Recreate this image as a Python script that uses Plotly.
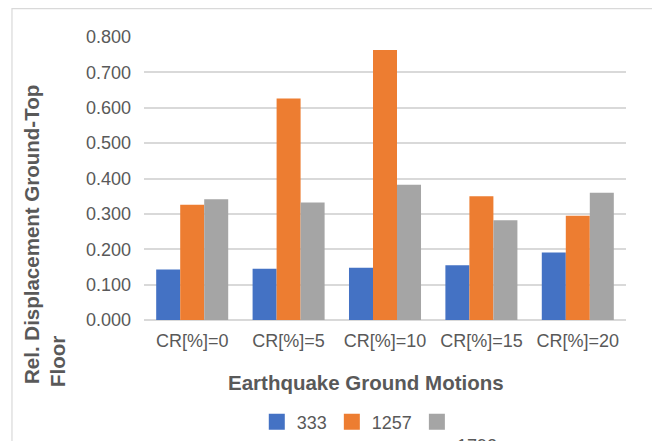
import plotly.graph_objects as go

categories = ["CR[%]=0", "CR[%]=5", "CR[%]=10", "CR[%]=15", "CR[%]=20"]
series_names = ["333", "1257", "<br>1792"]
values_333 = [0.143, 0.145, 0.148, 0.155, 0.191]
values_1257 = [0.326, 0.626, 0.763, 0.350, 0.295]
values_1792 = [0.341, 0.332, 0.382, 0.282, 0.360]
colors = ["#4472C4", "#ED7D31", "#A5A5A5"]

FONT = "Liberation Sans"
TXT = "#595959"

fig = go.Figure()
for name, vals, col in zip(series_names, [values_333, values_1257, values_1792], colors):
    fig.add_trace(go.Bar(x=categories, y=vals, name=name, marker_color=col,
                         marker_line_width=0, showlegend=False, legendgroup=name))
# legend entries with larger square swatches
for name, col in zip(series_names, colors):
    fig.add_trace(go.Scatter(x=[None], y=[None], mode="markers", name=name,
                             legendgroup=name,
                             marker=dict(symbol="square", size=18, color=col),
                             showlegend=True, hoverinfo="skip"))

fig.update_layout(
    width=652, height=433,
    margin=dict(l=136, r=34, t=29, b=121, autoexpand=False),
    paper_bgcolor="white", plot_bgcolor="white",
    barmode="group", bargap=0.253, bargroupgap=0,
    font=dict(family=FONT, color=TXT, size=18),
    showlegend=True,
    legend=dict(orientation="h", x=0.234, y=-0.295, xanchor="left", yanchor="top",
                valign="top", font=dict(size=18, color=TXT), traceorder="normal",
                itemwidth=30),
    xaxis=dict(showgrid=False, showline=False, ticks="", tickfont=dict(size=18, color=TXT),
               ticklabelstandoff=8),
    yaxis=dict(range=[0, 0.8], dtick=0.1, tickformat=".3f", showgrid=True,
               gridcolor="#D9D9D9", gridwidth=1.5, zeroline=True, zerolinecolor="#D9D9D9",
               zerolinewidth=1.5, showline=False, tickfont=dict(size=18, color=TXT),
               ticklabelstandoff=12),
    shapes=[dict(type="rect", xref="paper", yref="paper", x0=-0.2739, x1=1.058,
                 y0=-0.45, y1=1.1004, line=dict(color="#D9D9D9", width=1.2),
                 fillcolor="rgba(0,0,0,0)", layer="below")],
    annotations=[
        dict(text="<b>Earthquake Ground Motions</b>", xref="paper", yref="paper",
             x=0.4606, y=-0.2193, showarrow=False, font=dict(size=20.5, color=TXT),
             xanchor="center", yanchor="middle"),
        dict(text="<b>Rel. Displacement Ground-Top</b>", xref="paper", yref="paper",
             x=-0.2324, y=0.304, showarrow=False, textangle=-90,
             font=dict(size=20.5, color=TXT), xanchor="center", yanchor="middle"),
        dict(text="<b>Floor</b>", xref="paper", yref="paper",
             x=-0.1805, y=-0.145, showarrow=False, textangle=-90,
             font=dict(size=20.5, color=TXT), xanchor="center", yanchor="middle"),
    ],
)

fig.write_html("out.html")
